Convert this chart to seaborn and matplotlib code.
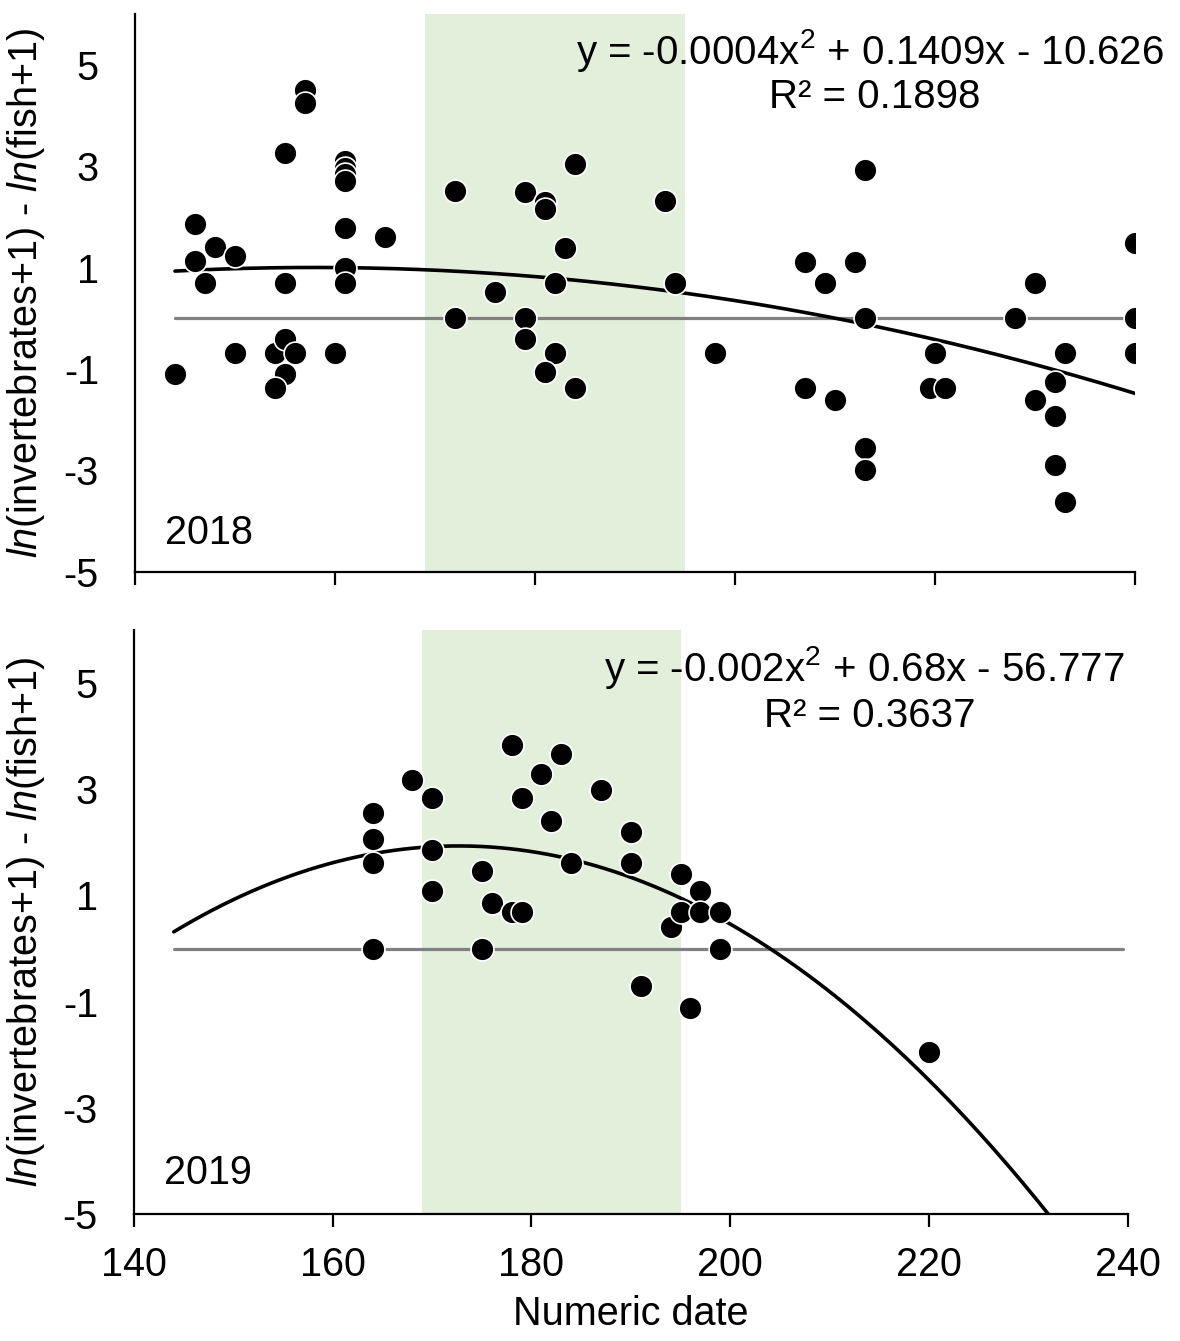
"""Two-panel scatter of ln(invertebrates+1) - ln(fish+1) against numeric date,
with quadratic trendlines for 2018 and 2019."""

import numpy as np
import pandas as pd
import matplotlib
matplotlib.use("Agg")
import matplotlib.pyplot as plt
import seaborn as sns

# --- data ---
date_2018 = [144, 146, 146, 147, 148, 150, 150, 154, 154, 155, 155, 155, 156,
             155, 154, 157, 157, 161, 161, 161, 161, 161, 161, 161, 160, 165,
             172, 172, 176, 179, 179, 179, 181, 181, 183, 184, 182, 182, 181,
             184, 193, 194, 198, 207, 209, 212, 213, 213, 207, 210, 213, 213,
             220, 219.5, 221, 228, 230, 230, 232, 233, 232, 232, 233, 240, 240,
             240]
ratio_2018 = [-1.1, 1.85, 1.12, 0.7, 1.4, 1.23, -0.68, -0.68, -1.38, 3.25, 0.7,
              -0.41, -0.68, -1.09, -1.38, 4.5, 4.25, 3.1, 2.97, 2.84, 2.7, 1.79,
              1.0, 0.7, -0.68, 1.61, 2.5, 0.0, 0.52, 2.49, 0.0, -0.41, 2.3,
              2.15, 1.39, 3.05, 0.7, -0.68, -1.05, -1.38, 2.31, 0.7, -0.68,
              1.11, 0.69, 1.11, 2.92, 0.0, -1.38, -1.61, -2.56, -3.0, -0.68,
              -1.38, -1.38, 0.0, 0.69, -1.61, -1.26, -0.68, -1.93, -2.9, -3.63,
              1.48, 0.0, -0.68]

date_2019 = [164, 164, 164, 164, 168, 170, 170, 170, 178, 179, 181, 183, 182,
             184, 187, 175, 176, 178, 179, 175, 190, 190, 191, 194, 195, 195,
             197, 197, 196, 199, 199, 220]
ratio_2019 = [2.56, 2.07, 1.61, 0.0, 3.17, 2.83, 1.86, 1.09, 3.84, 2.83, 3.29,
              3.66, 2.4, 1.61, 2.99, 1.46, 0.85, 0.68, 0.68, 0.0, 2.2, 1.61,
              -0.7, 0.4, 1.4, 0.68, 1.08, 0.68, -1.12, 0.68, 0.0, -1.95]

years = ["2018", "2019"]
equations = ["y = -0.0004x$^2$ + 0.1409x - 10.626", "y = -0.002x$^2$ + 0.68x - 56.777"]
r_squared = ["R² = 0.1898", "R² = 0.3637"]
curve_range = [(144, 240.5), (144, 240)]
baseline_range = [(144, 240), (144, 239.5)]
season_window = (169, 195)

sns.set_style("white")
plt.rcParams["font.family"] = ["Liberation Sans", "DejaVu Sans"]
plt.rcParams["mathtext.fontset"] = "custom"
plt.rcParams["mathtext.rm"] = "Liberation Sans"
plt.rcParams["mathtext.it"] = "Liberation Sans:italic"
plt.rcParams["axes.unicode_minus"] = False
for key in ["text.color", "axes.labelcolor", "xtick.color", "ytick.color"]:
    plt.rcParams[key] = "black"

fig = plt.figure(figsize=(11.8, 13.41), dpi=100)
ax_top = fig.add_axes([0.1144, 0.5735, 0.8475, 0.4161])
ax_bot = fig.add_axes([0.1136, 0.0947, 0.842, 0.4355])

panels = [(ax_top, date_2018, ratio_2018), (ax_bot, date_2019, ratio_2019)]
for i, (ax, dates, ratios) in enumerate(panels):
    df = pd.DataFrame({"date": dates, "ratio": ratios})

    ax.axvspan(*season_window, color="#e2efda", lw=0, zorder=0)

    bx = list(baseline_range[i])
    sns.lineplot(x=bx, y=[0, 0], ax=ax, color="#808080", lw=2.3, zorder=1)

    # quadratic trendline, fitted to the points
    coef = np.polyfit(df["date"], df["ratio"], 2)
    cx = np.linspace(*curve_range[i], 200)
    sns.lineplot(x=cx, y=np.polyval(coef, cx), ax=ax, color="black", lw=2.6,
                 zorder=3, sort=False)

    sns.scatterplot(data=df, x="date", y="ratio", ax=ax, s=270, color="black",
                    edgecolor="white", linewidth=1.2, zorder=4)

    ax.set_xlim(140, 240)
    ax.set_ylim(-5, 6)
    ax.set_xticks([140, 160, 180, 200, 220, 240])
    ax.set_yticks([-5, -3, -1, 1, 3, 5])
    for side in ["top", "right"]:
        ax.spines[side].set_visible(False)
    for side in ["left", "bottom"]:
        ax.spines[side].set_color("black")
        ax.spines[side].set_linewidth(1.6)
    ax.tick_params(axis="x", direction="out", length=9, width=1.6,
                   labelsize=28.5, bottom=True, pad=14)
    ax.tick_params(axis="y", length=0, labelsize=28.5, pad=26)
    ax.set_ylabel(r"$\it{ln}$(invertebrates+1) - $\it{ln}$(fish+1)",
                  fontsize=28.5)
    ax.yaxis.set_label_coords(-0.088, 0.5)
    ax.set_xlabel("")
    ax.text(0.03, 0.07, years[i], transform=ax.transAxes, fontsize=28.5,
            ha="left", va="center")
    ax.text(0.735, 0.935, equations[i], transform=ax.transAxes, fontsize=29,
            ha="center", va="center")
    ax.text(0.74, 0.852, r_squared[i], transform=ax.transAxes, fontsize=29,
            ha="center", va="center")
    if ax.get_legend():
        ax.get_legend().remove()

ax_top.tick_params(axis="x", labelbottom=False)
ax_bot.set_xlabel("Numeric date", fontsize=28.5, labelpad=8)

fig.savefig("out.png", dpi=100)
